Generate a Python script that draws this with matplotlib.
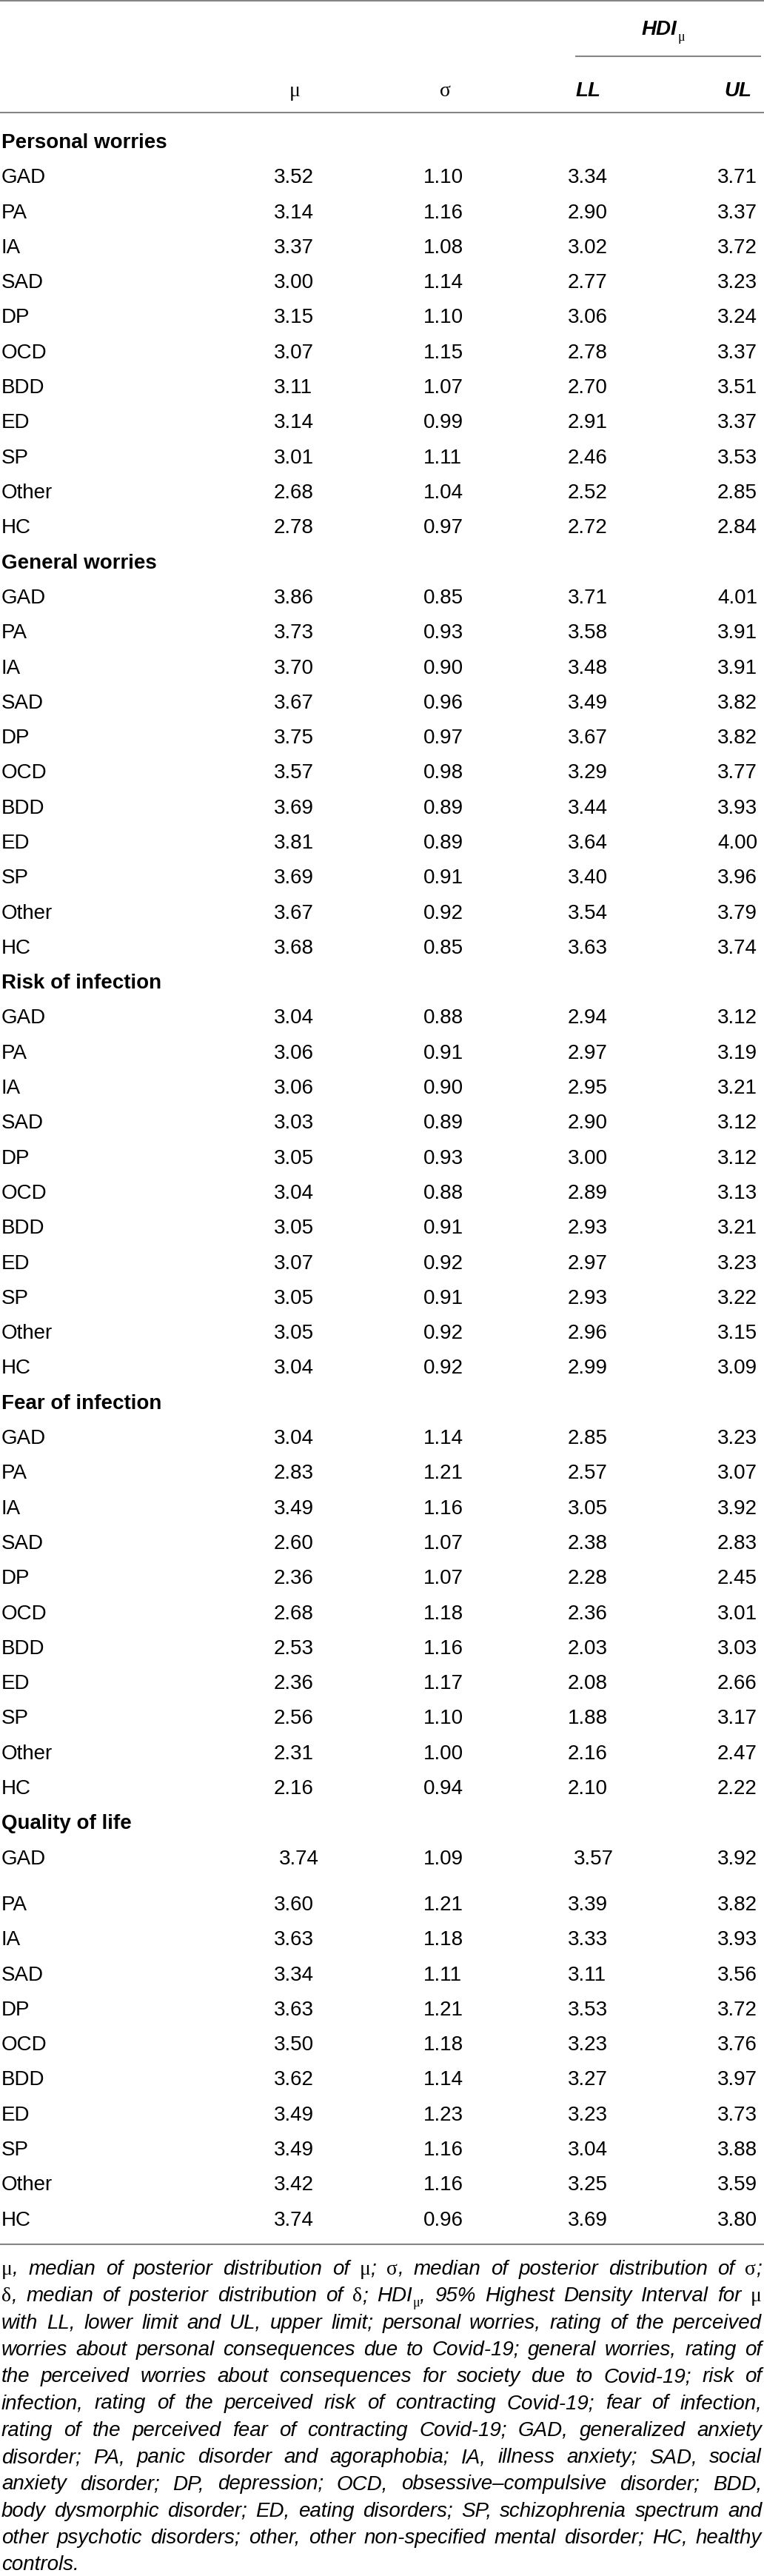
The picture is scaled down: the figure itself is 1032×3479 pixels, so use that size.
import matplotlib
matplotlib.use("Agg")
import matplotlib.pyplot as plt

W, H = 1032, 3480
FS = 20
SANS = "Liberation Sans"
SERIF = "Liberation Serif"
GREY = "#858585"

groups = ["Personal worries", "General worries", "Risk of infection",
          "Fear of infection", "Quality of life"]
disorders = ["GAD", "PA", "IA", "SAD", "DP", "OCD", "BDD", "ED", "SP", "Other", "HC"]

# personal worries
pw_mu = [3.52, 3.14, 3.37, 3.00, 3.15, 3.07, 3.11, 3.14, 3.01, 2.68, 2.78]
pw_sigma = [1.10, 1.16, 1.08, 1.14, 1.10, 1.15, 1.07, 0.99, 1.11, 1.04, 0.97]
pw_ll = [3.34, 2.90, 3.02, 2.77, 3.06, 2.78, 2.70, 2.91, 2.46, 2.52, 2.72]
pw_ul = [3.71, 3.37, 3.72, 3.23, 3.24, 3.37, 3.51, 3.37, 3.53, 2.85, 2.84]

# general worries
gw_mu = [3.86, 3.73, 3.70, 3.67, 3.75, 3.57, 3.69, 3.81, 3.69, 3.67, 3.68]
gw_sigma = [0.85, 0.93, 0.90, 0.96, 0.97, 0.98, 0.89, 0.89, 0.91, 0.92, 0.85]
gw_ll = [3.71, 3.58, 3.48, 3.49, 3.67, 3.29, 3.44, 3.64, 3.40, 3.54, 3.63]
gw_ul = [4.01, 3.91, 3.91, 3.82, 3.82, 3.77, 3.93, 4.00, 3.96, 3.79, 3.74]

# risk of infection
ri_mu = [3.04, 3.06, 3.06, 3.03, 3.05, 3.04, 3.05, 3.07, 3.05, 3.05, 3.04]
ri_sigma = [0.88, 0.91, 0.90, 0.89, 0.93, 0.88, 0.91, 0.92, 0.91, 0.92, 0.92]
ri_ll = [2.94, 2.97, 2.95, 2.90, 3.00, 2.89, 2.93, 2.97, 2.93, 2.96, 2.99]
ri_ul = [3.12, 3.19, 3.21, 3.12, 3.12, 3.13, 3.21, 3.23, 3.22, 3.15, 3.09]

# fear of infection
fi_mu = [3.04, 2.83, 3.49, 2.60, 2.36, 2.68, 2.53, 2.36, 2.56, 2.31, 2.16]
fi_sigma = [1.14, 1.21, 1.16, 1.07, 1.07, 1.18, 1.16, 1.17, 1.10, 1.00, 0.94]
fi_ll = [2.85, 2.57, 3.05, 2.38, 2.28, 2.36, 2.03, 2.08, 1.88, 2.16, 2.10]
fi_ul = [3.23, 3.07, 3.92, 2.83, 2.45, 3.01, 3.03, 2.66, 3.17, 2.47, 2.22]

# quality of life
ql_mu = [3.74, 3.60, 3.63, 3.34, 3.63, 3.50, 3.62, 3.49, 3.49, 3.42, 3.74]
ql_sigma = [1.09, 1.21, 1.18, 1.11, 1.21, 1.18, 1.14, 1.23, 1.16, 1.16, 0.96]
ql_ll = [3.57, 3.39, 3.33, 3.11, 3.53, 3.23, 3.27, 3.23, 3.04, 3.25, 3.69]
ql_ul = [3.92, 3.82, 3.93, 3.56, 3.72, 3.76, 3.97, 3.73, 3.88, 3.59, 3.80]

group_cols = [
    (pw_mu, pw_sigma, pw_ll, pw_ul),
    (gw_mu, gw_sigma, gw_ll, gw_ul),
    (ri_mu, ri_sigma, ri_ll, ri_ul),
    (fi_mu, fi_sigma, fi_ll, fi_ul),
    (ql_mu, ql_sigma, ql_ll, ql_ul),
]

footnote_lines = [
    "μ, median of posterior distribution of μ; σ, median of posterior distribution of σ;",
    "δ, median of posterior distribution of δ; HDIμ, 95% Highest Density Interval for μ",
    "with LL, lower limit and UL, upper limit; personal worries, rating of the perceived",
    "worries about personal consequences due to Covid-19; general worries, rating of",
    "the perceived worries about consequences for society due to Covid-19; risk of",
    "infection, rating of the perceived risk of contracting Covid-19; fear of infection,",
    "rating of the perceived fear of contracting Covid-19; GAD, generalized anxiety",
    "disorder; PA, panic disorder and agoraphobia; IA, illness anxiety; SAD, social",
    "anxiety disorder; DP, depression; OCD, obsessive\u2013compulsive disorder; BDD,",
    "body dysmorphic disorder; ED, eating disorders; SP, schizophrenia spectrum and",
    "other psychotic disorders; other, other non-specified mental disorder; HC, healthy",
    "controls.",
]

fig = plt.figure(figsize=(W / 100, H / 100), dpi=100)
ax = fig.add_axes([0, 0, 1, 1])
ax.set_xlim(0, W)
ax.set_ylim(H, 0)
ax.axis("off")
renderer = fig.canvas.get_renderer()


def txt_w(t):
    return t.get_window_extent(renderer).width


def put(x, y, s, **kw):
    # y is the visual centre of capitals; convert to baseline
    kw.setdefault("family", SANS)
    kw.setdefault("fontsize", FS)
    return ax.text(x, y + 10, s, va="baseline", **kw)


# rules
ax.hlines([1.5, 153], 0, W, color=GREY, lw=1.5)
ax.hlines(77, 777, 1028, color=GREY, lw=1.5)
ax.hlines(3032, 0, W, color=GREY, lw=1.5)

# header
col_x = [370, 572, 767, 969]
head_cx = [398, 601, 795, 997]
put(head_cx[0], 120, "μ", family=SERIF, ha="center")
put(head_cx[1], 120, "σ", family=SERIF, ha="center")
put(head_cx[2], 120, "LL", weight="bold", style="italic", ha="center")
put(head_cx[3], 120, "UL", weight="bold", style="italic", ha="center")
hdi = put(867, 37, "HDI", weight="bold", style="italic")
put(867 + txt_w(hdi) + 1, 45, "μ", family=SERIF, fontsize=13)

# body
row_y0 = 190
step = 47.3
extra_gap = 15
nudge = {("Quality of life", "GAD"): (7, 0, 8, 0)}

i = 0
for g, cols in zip(groups, group_cols):
    y = row_y0 + i * step + (extra_gap if i > 49 else 0)
    put(2, y, g, weight="bold")
    i += 1
    for r, name in enumerate(disorders):
        y = row_y0 + i * step + (extra_gap if i > 49 else 0)
        put(2, y, name)
        dx = nudge.get((g, name), (0, 0, 0, 0))
        for c, vals in enumerate(cols):
            put(col_x[c] + dx[c], y, f"{vals[r]:.2f}")
        i += 1

# footnote, justified
GREEK = set("μσδ")


def pieces_of(word):
    if word.startswith("HDIμ"):
        return [("HDI", "it"), ("μ", "sub")] + ([(word[4:], "it")] if word[4:] else [])
    out = []
    for ch in word:
        kind = "gr" if ch in GREEK else "it"
        if out and out[-1][1] == kind:
            out[-1] = (out[-1][0] + ch, kind)
        else:
            out.append((ch, kind))
    return out


def draw_piece(x, y, s, kind):
    if kind == "it":
        return put(x, y, s, style="italic")
    if kind == "gr":
        return put(x, y, s, family=SERIF)
    return put(x, y + 7, s, family=SERIF, fontsize=13)


probe_a = put(0, -100, "xx", style="italic")
probe_b = put(0, -100, "x x", style="italic")
space_w = txt_w(probe_b) - txt_w(probe_a)
probe_a.remove()
probe_b.remove()

x_left, x_right = 2, 1029
fn_y0, fn_step = 3062, 36.3
for n, line in enumerate(footnote_lines):
    y = fn_y0 + n * fn_step
    words = []
    for w in line.split(" "):
        arts = []
        x = 0
        for s, kind in pieces_of(w):
            t = draw_piece(x, y, s, kind)
            arts.append((t, x))
            x += txt_w(t)
        words.append((arts, x))
    total = sum(wd for _, wd in words)
    last = n == len(footnote_lines) - 1
    gap = space_w if last or len(words) < 2 else (x_right - x_left - total) / (len(words) - 1)
    cur = x_left
    for arts, wd in words:
        for t, off in arts:
            t.set_x(cur + off)
        cur += wd + gap

fig.savefig("out.png", dpi=100)
